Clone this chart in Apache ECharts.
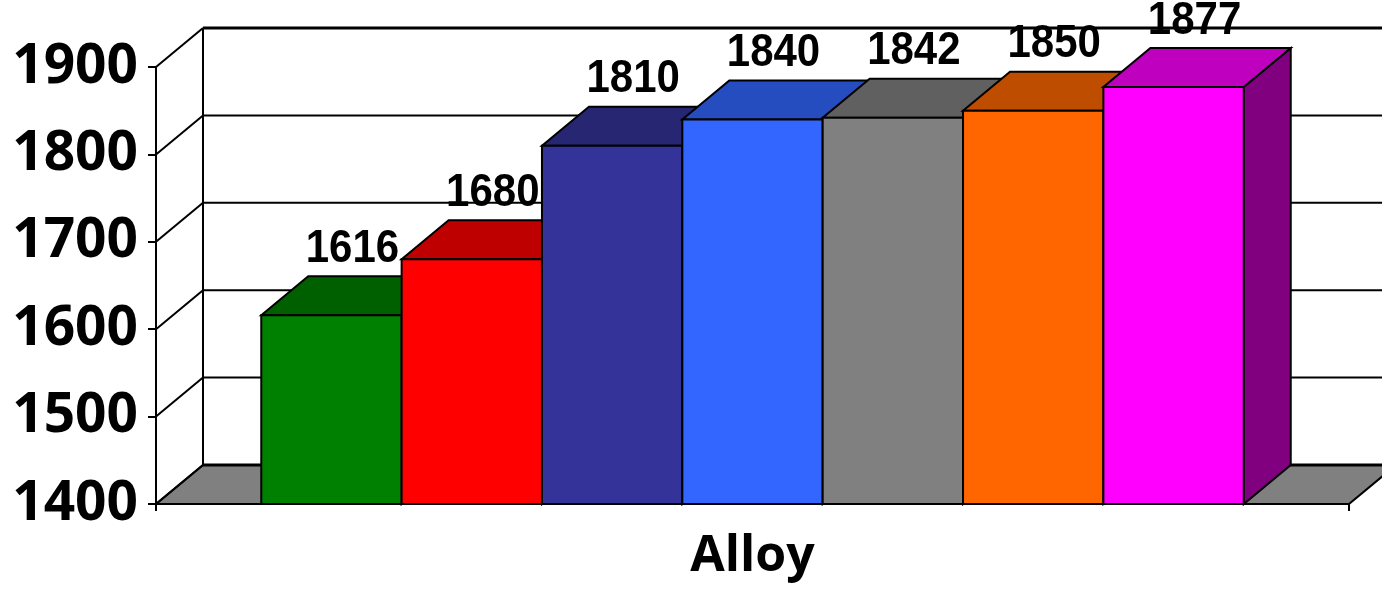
<!DOCTYPE html>
<html>
<head>
<meta charset="utf-8">
<title>Alloy</title>
<script src="https://cdn.jsdelivr.net/npm/echarts@6/dist/echarts.min.js"></script>
<style>
  html, body { margin: 0; padding: 0; background: #ffffff; }
  #chart { width: 1382px; height: 589px; }
</style>
</head>
<body>
<div id="chart"></div>
<script>
// Category and values
const categories = ['Alloy'];
const values = [1616, 1680, 1810, 1840, 1842, 1850, 1877];
const yTicks = [1400, 1500, 1600, 1700, 1800, 1900];

// Front-face colours of the bars; top and side faces are darker shades
const barColors = ['#008000', '#ff0000', '#333399', '#3366ff', '#808080', '#ff6600', '#ff00ff'];

// Oblique projection of the depth axis (pixels)
const DEPTH_X = 47;
const DEPTH_Y = -39;
// Empty space at each end of the floor, in bar widths
const END_GAP = 0.75;

function shade(hex, k) {
  const n = parseInt(hex.slice(1), 16);
  const r = Math.round(((n >> 16) & 255) * k);
  const g = Math.round(((n >> 8) & 255) * k);
  const b = Math.round((n & 255) * k);
  return 'rgb(' + r + ',' + g + ',' + b + ')';
}

const chart = echarts.init(document.getElementById('chart'), null, { renderer: 'canvas' });

// Walls and floor: one item per y tick
function renderWalls(params, api) {
  const cs = params.coordSys;
  const v = api.value(1);
  const y = api.coord([0, v])[1];
  const xl = cs.x, xr = cs.x + cs.width;
  const yBottom = cs.y + cs.height;
  const children = [];
  const isFloor = v === yTicks[0];
  const isTop = v === yTicks[yTicks.length - 1];
  if (isFloor) {
    children.push({
      type: 'polygon',
      shape: { points: [[xl, yBottom], [xr, yBottom], [xr + DEPTH_X, yBottom + DEPTH_Y], [xl + DEPTH_X, yBottom + DEPTH_Y]] },
      style: { fill: '#808080', stroke: '#000', lineWidth: 2 }
    });
    children.push({
      type: 'line',
      shape: { x1: xl + DEPTH_X, y1: cs.y + DEPTH_Y, x2: xl + DEPTH_X, y2: yBottom + DEPTH_Y },
      style: { stroke: '#000', lineWidth: 2 }
    });
  }
  // back wall gridline
  children.push({
    type: 'line',
    shape: { x1: xl + DEPTH_X, y1: y + DEPTH_Y, x2: xr + DEPTH_X, y2: y + DEPTH_Y },
    style: { stroke: '#000', lineWidth: (isFloor || isTop) ? 3 : 2 }
  });
  // side wall gridline
  children.push({
    type: 'line',
    shape: { x1: xl, y1: y, x2: xl + DEPTH_X, y2: y + DEPTH_Y },
    style: { stroke: '#000', lineWidth: 2 }
  });
  return { type: 'group', children: children };
}

// 3D bars: front, top and side faces plus the value label
function renderBar(params, api) {
  const i = api.value(2);
  const v = api.value(1);
  const center = api.coord([api.value(0), yTicks[0]]);
  const band = api.size([1, 0])[0];
  const unit = band / (values.length + 2 * END_GAP);
  const x0 = center[0] - band / 2 + unit * (END_GAP + i);
  const x1 = x0 + unit;
  const yb = center[1];
  const yt = api.coord([api.value(0), v])[1];
  const col = barColors[i];
  const edge = { stroke: '#000', lineWidth: 2, lineJoin: 'miter' };
  return {
    type: 'group',
    children: [
      {
        type: 'polygon',
        shape: { points: [[x1, yt], [x1 + DEPTH_X, yt + DEPTH_Y], [x1 + DEPTH_X, yb + DEPTH_Y], [x1, yb]] },
        style: Object.assign({ fill: shade(col, 0.5) }, edge)
      },
      {
        type: 'polygon',
        shape: { points: [[x0, yt], [x1, yt], [x1 + DEPTH_X, yt + DEPTH_Y], [x0 + DEPTH_X, yt + DEPTH_Y]] },
        style: Object.assign({ fill: shade(col, 0.75) }, edge)
      },
      {
        type: 'rect',
        shape: { x: x0, y: yt, width: unit, height: yb - yt },
        style: Object.assign({ fill: col }, edge)
      },
      {
        type: 'text',
        x: x0 + unit / 2 + 21,
        y: yt + DEPTH_Y - 27,
        scaleY: 1.1,
        style: {
          text: String(v),
          fill: '#000',
          font: 'bold 42px "Liberation Sans", Arial, sans-serif',
          align: 'center',
          verticalAlign: 'middle'
        }
      }
    ]
  };
}

const option = {
  animation: false,
  backgroundColor: '#ffffff',
  grid: { left: 156, right: 33, top: 67, bottom: 85, containLabel: false },
  xAxis: {
    type: 'category',
    data: categories,
    boundaryGap: true,
    axisLine: { show: true, lineStyle: { color: '#333', width: 2 } },
    axisTick: { show: true, length: 7, lineStyle: { color: '#000', width: 2 } },
    axisLabel: {
      show: true,
      margin: 28,
      color: '#000',
      fontSize: 50,
      fontWeight: 'bold',
      fontFamily: '"Open Sans", "DejaVu Sans", sans-serif'
    },
    splitLine: { show: false }
  },
  yAxis: {
    type: 'value',
    min: yTicks[0],
    max: yTicks[yTicks.length - 1],
    interval: yTicks[1] - yTicks[0],
    axisLine: { show: true, lineStyle: { color: '#000', width: 2 } },
    axisTick: { show: true, length: 8, lineStyle: { color: '#000', width: 2 } },
    axisLabel: {
      margin: 18,
      color: '#000',
      fontSize: 55,
      fontWeight: 'bold',
      fontFamily: '"Open Sans", "DejaVu Sans", sans-serif',
      formatter: function (v) { return String(v); }
    },
    splitLine: { show: false }
  },
  series: [
    {
      type: 'custom',
      name: 'walls',
      z: 1,
      silent: true,
      renderItem: renderWalls,
      encode: { x: 0, y: 1 },
      data: yTicks.map(function (t) { return [0, t]; })
    },
    {
      type: 'custom',
      name: 'Alloy',
      z: 2,
      renderItem: renderBar,
      encode: { x: 0, y: 1 },
      data: values.map(function (v, i) { return [0, v, i]; })
    }
  ]
};

chart.setOption(option);
</script>
</body>
</html>
